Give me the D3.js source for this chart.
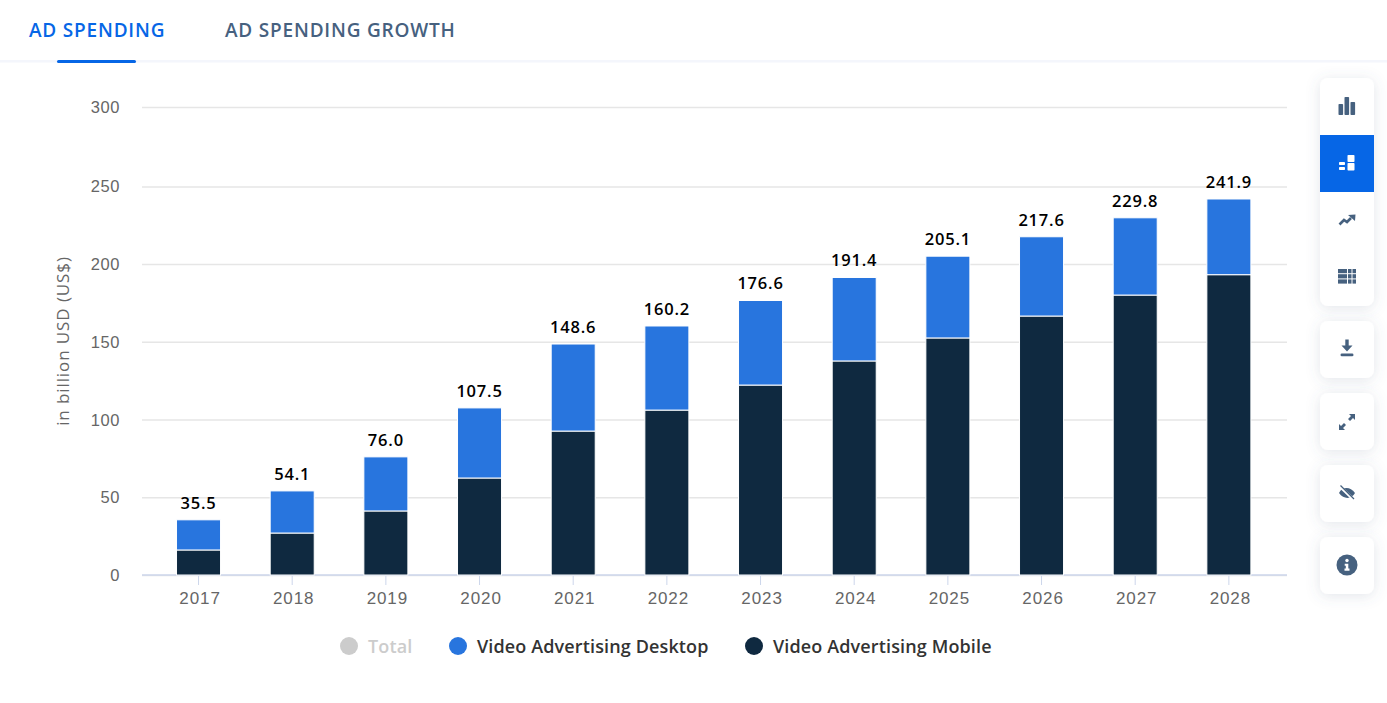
<!DOCTYPE html>
<html>
<head>
<meta charset="utf-8">
<script src="https://cdn.jsdelivr.net/npm/d3@7"></script>
<style>
  html, body { margin: 0; padding: 0; background: #fff; overflow: hidden; }
  svg { display: block; font-family: "Open Sans", sans-serif; }
  .tab { font-size: 19px; font-weight: 600; letter-spacing: 0.8px; }
  .y-axis text { font-size: 16.5px; fill: #666; letter-spacing: 0.6px; }
  .x-axis text { font-size: 17px; fill: #666; letter-spacing: 0.9px; }
  .total { font-size: 16.5px; font-weight: 600; fill: #000; text-anchor: middle; letter-spacing: 0.8px; }
  .legend { font-size: 18px; font-weight: 600; letter-spacing: 0.13px; }
</style>
</head>
<body>
<svg id="chart" width="1387" height="703"></svg>
<script>
// values
var years = ["2017", "2018", "2019", "2020", "2021", "2022", "2023", "2024", "2025", "2026", "2027", "2028"];
var totals = [35.5, 54.1, 76.0, 107.5, 148.6, 160.2, 176.6, 191.4, 205.1, 217.6, 229.8, 241.9];
var mobile = [16.1, 27.0, 41.2, 62.4, 92.6, 106.1, 122.2, 137.7, 152.5, 166.6, 180.1, 193.2];
var desktop = [19.4, 27.1, 34.8, 45.1, 56.0, 54.1, 54.4, 53.7, 52.6, 51.0, 49.7, 48.7];
var yTicks = [0, 50, 100, 150, 200, 250, 300];
var legendNames = ["Total", "Video Advertising Desktop", "Video Advertising Mobile"];
var tabNames = ["AD SPENDING", "AD SPENDING GROWTH"];

var blue = "#2875de", navy = "#0f2940", accent = "#0666e6", slate = "#46617f";

var svg = d3.select("#chart");

var defs = svg.append("defs");
var shadow = defs.append("filter").attr("id", "cardShadow")
    .attr("x", "-40%").attr("y", "-40%").attr("width", "180%").attr("height", "180%");
shadow.append("feDropShadow").attr("dx", 0).attr("dy", 2).attr("stdDeviation", 7)
    .attr("flood-color", "#5a6b85").attr("flood-opacity", 0.17);

// tabs
svg.append("rect").attr("x", 0).attr("y", 60).attr("width", 1387).attr("height", 2.5).attr("fill", "#f4f6fc");
svg.append("rect").attr("x", 57).attr("y", 60).attr("width", 79).attr("height", 3).attr("rx", 1.5).attr("fill", accent);
svg.append("text").attr("class", "tab").attr("x", 29).attr("y", 37).attr("fill", accent).text(tabNames[0]);
svg.append("text").attr("class", "tab").attr("x", 225).attr("y", 37).attr("fill", slate).text(tabNames[1]);

// scales - top gridline sits a little higher than a straight scale in the picture
var x = d3.scaleBand().domain(years).range([151.7, 1275.7]).paddingInner(0.53).paddingOuter(0.265);
var y = d3.scaleLinear().domain([0, 250, 300]).range([575, 186.4, 107]);

// y axis + grid
var yAxis = svg.append("g").attr("class", "y-axis").attr("transform", "translate(142,0)")
    .call(d3.axisLeft(y).tickValues(yTicks).tickSize(-1145).tickPadding(22));
yAxis.select(".domain").remove();
yAxis.selectAll("line").attr("stroke", "#e6e6e6").attr("stroke-width", 1.5);
yAxis.selectAll("text").attr("dy", "0.33em");

svg.append("text").attr("transform", "translate(69,341) rotate(-90)")
    .attr("text-anchor", "middle").attr("font-size", 17).attr("fill", "#666").attr("letter-spacing", 0.9)
    .text("in billion USD (US$)");

// x axis
var xAxis = svg.append("g").attr("class", "x-axis").attr("transform", "translate(0,575)")
    .call(d3.axisBottom(x).tickSize(10).tickPadding(7));
xAxis.select(".domain").remove();
xAxis.selectAll("line").attr("stroke", "#ccd6eb");
xAxis.selectAll("text").attr("dx", 1.5);
svg.append("line").attr("x1", 142).attr("x2", 1287).attr("y1", 575).attr("y2", 575)
    .attr("stroke", "#ccd6eb").attr("stroke-width", 1.5);

// stacked bars
var rows = years.map(function (yr, i) {
    return { year: yr, mobile: mobile[i], desktop: desktop[i], total: totals[i] };
});
var stacked = d3.stack().keys(["mobile", "desktop"])(rows);
var colors = { mobile: navy, desktop: blue };

svg.append("g").selectAll("g").data(stacked).join("g")
    .attr("fill", function (s) { return colors[s.key]; })
    .selectAll("rect").data(function (s) { return s; }).join("rect")
    .attr("x", function (d) { return x(d.data.year); })
    .attr("y", function (d) { return y(d[1]); })
    .attr("width", x.bandwidth())
    .attr("height", function (d) { return y(d[0]) - y(d[1]); })
    .attr("stroke", "#fff").attr("stroke-width", 1);

// total labels
svg.append("g").selectAll("text").data(rows).join("text")
    .attr("class", "total")
    .attr("x", function (d) { return x(d.year) + x.bandwidth() / 2; })
    .attr("y", function (d) { return y(d.total) - 11; })
    .text(function (d) { return d.total.toFixed(1); });

// legend
var legendX = [349, 458, 754];
var legendColors = ["#cccccc", blue, navy];
var legend = svg.append("g").selectAll("g").data(legendNames).join("g")
    .attr("transform", function (d, i) { return "translate(" + legendX[i] + ",646)"; });
legend.append("circle").attr("r", 9).attr("fill", function (d, i) { return legendColors[i]; });
legend.append("text").attr("class", "legend").attr("x", 19).attr("y", 7)
    .style("fill", function (d, i) { return i == 0 ? "#cccccc" : "#333333"; })
    .text(function (d) { return d; });

// side toolbar
var cards = [[78, 228], [321, 57], [393, 57], [465, 57], [537, 57]];
svg.append("g").selectAll("rect").data(cards).join("rect")
    .attr("x", 1320).attr("y", function (d) { return d[0]; })
    .attr("width", 54).attr("height", function (d) { return d[1]; })
    .attr("rx", 8).attr("fill", "#fff").attr("filter", "url(#cardShadow)");
svg.append("rect").attr("x", 1320).attr("y", 135).attr("width", 54).attr("height", 57).attr("fill", accent);

function icon(cx, cy, color) {
    return svg.append("g").attr("transform", "translate(" + cx + "," + cy + ")").attr("fill", color).attr("stroke", "none");
}
// grouped bars
var ic = icon(1347, 106, slate);
[[-8.5, -2, 4.6, 11], [-2.5, -9, 4.6, 18], [3.5, -4, 4.6, 13]].forEach(function (r) {
    ic.append("rect").attr("x", r[0]).attr("y", r[1]).attr("width", r[2]).attr("height", r[3]).attr("rx", 0.8);
});
// stacked bars (active)
ic = icon(1347, 163, "#fff");
[[-8, -1, 6, 3], [-8, 4, 6, 3], [0.5, -8, 7, 7], [0.5, 0, 7, 7.5]].forEach(function (r) {
    ic.append("rect").attr("x", r[0]).attr("y", r[1]).attr("width", r[2]).attr("height", r[3]).attr("rx", 0.8);
});
// trend
ic = icon(1347, 220, slate);
ic.append("path").attr("d", "M-7.5 4.5L-3 0L0 2L4 -2").attr("fill", "none").attr("stroke", slate).attr("stroke-width", 2.6);
ic.append("path").attr("d", "M1 -5L8.5 -5.5L8 1Z");
// table
ic = icon(1347, 277, slate);
[-8, -2.8, 2.4].forEach(function (ty) {
    [[-9, 9], [1, 3.5], [5.5, 3.5]].forEach(function (c) {
        ic.append("rect").attr("x", c[0]).attr("y", ty).attr("width", c[1]).attr("height", 4.2);
    });
});
// download
ic = icon(1347, 348, slate);
ic.append("path").attr("d", "M-1.7 -8.5H1.7V-2.5H5.5L0 3.5L-5.5 -2.5H-1.7Z");
ic.append("rect").attr("x", -6.5).attr("y", 5.5).attr("width", 13).attr("height", 2.8).attr("rx", 1.4);
// expand
ic = icon(1347, 422, slate);
ic.append("path").attr("d", "M2 -8H8V-2L6 -4L3 -1L1 -3L4 -6Z");
ic.append("path").attr("d", "M-2 8H-8V2L-6 4L-3 1L-1 3L-4 6Z");
// hidden eye
ic = icon(1347, 493, slate);
ic.append("path").attr("d", "M-8 0C-5 -6 3 -7 8 0C5 6 -3 7 -8 0Z");
ic.append("line").attr("x1", -7).attr("y1", -6.5).attr("x2", 7).attr("y2", 7).attr("stroke", "#fff").attr("stroke-width", 3);
ic.append("line").attr("x1", -6.5).attr("y1", -7.5).attr("x2", 7).attr("y2", 6).attr("stroke", slate).attr("stroke-width", 1.3);
// info
ic = icon(1347, 565, slate);
ic.append("circle").attr("r", 10.5);
ic.append("circle").attr("cy", -4.5).attr("r", 1.7).attr("fill", "#fff");
ic.append("path").attr("d", "M-2.3 -1.3H1.3V3.5H2.5V5.8H-2.5V3.5H-1.2V0.8H-2.3Z").attr("fill", "#fff");
</script>
</body>
</html>
